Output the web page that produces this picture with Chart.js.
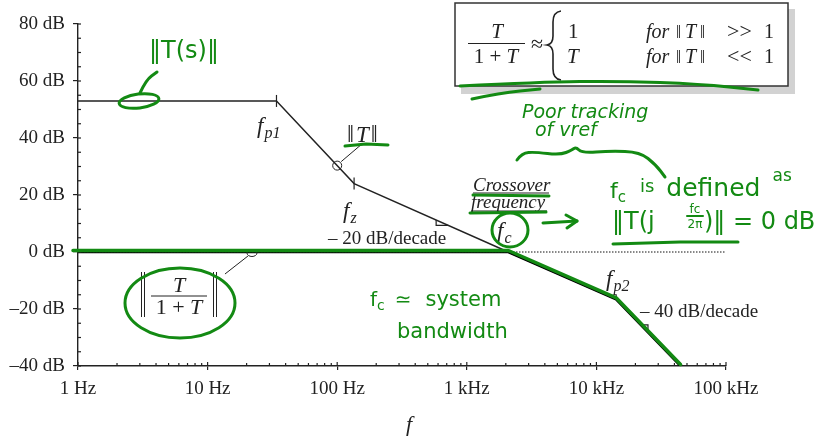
<!DOCTYPE html>
<html>
<head>
<meta charset="utf-8">
<script src="https://cdn.jsdelivr.net/npm/chart.js@4.4.0/dist/chart.umd.min.js"></script>
<style>
  html, body { margin: 0; padding: 0; background: #fff; }
  #wrap { width: 814px; height: 438px; }
</style>
</head>
<body>
<div id="wrap"><canvas id="bode"></canvas></div>
<script>
// loop gain ||T|| asymptotes (Hz, dB)
const loopFreqs = [1, 34, 135, 2090, 14200, 44600];
const loopMags  = [53, 53, 24, 0, -16.6, -40];

// closed loop ||T/(1+T)||
const closedFreqs = [1, 2090, 14200, 44600];
const closedMags  = [0, 0, -16.6, -40];

// 0 dB reference line
const refFreqs = [1, 100000];
const refMags  = [0, 0];

const freqTicks  = [1, 10, 100, 1000, 10000, 100000];
const freqLabels = ["1 Hz", "10 Hz", "100 Hz", "1 kHz", "10 kHz", "100 kHz"];
const dbTicks  = [-40, -20, 0, 20, 40, 60, 80];
const dbLabels = ["\u201340 dB", "\u201320 dB", "0 dB", "20 dB", "40 dB", "60 dB", "80 dB"];

const INK = "#222";
const PEN = "#138a13";
const SERIF = '"Liberation Serif", "DejaVu Serif", serif';
const HAND = '"DejaVu Sans", sans-serif';

function toPoints(fs, ms) {
  return fs.map((f, i) => ({ x: f, y: ms[i] }));
}

// dB value on a piecewise asymptote at frequency f
function dbAt(fs, ms, f) {
  for (let i = 0; i < fs.length - 1; i++) {
    if (f >= fs[i] && f <= fs[i + 1]) {
      const t = Math.log10(f / fs[i]) / Math.log10(fs[i + 1] / fs[i]);
      return ms[i] + t * (ms[i + 1] - ms[i]);
    }
  }
  return ms[ms.length - 1];
}

// draw a run of text pieces left to right on one baseline
function rich(ctx, x, y, parts) {
  ctx.textAlign = "left";
  ctx.textBaseline = "alphabetic";
  parts.forEach(p => {
    ctx.font = p.font;
    ctx.fillText(p.t, x, y + (p.dy || 0));
    x += ctx.measureText(p.t).width + (p.gap || 0);
  });
}

function richWidth(ctx, parts) {
  let w = 0;
  parts.forEach(p => { ctx.font = p.font; w += ctx.measureText(p.t).width + (p.gap || 0); });
  return w;
}

function line(ctx, pts) {
  ctx.beginPath();
  ctx.moveTo(pts[0][0], pts[0][1]);
  for (let i = 1; i < pts.length; i++) ctx.lineTo(pts[i][0], pts[i][1]);
  ctx.stroke();
}

function curve(ctx, pts) {
  ctx.beginPath();
  ctx.moveTo(pts[0][0], pts[0][1]);
  for (let i = 1; i < pts.length - 1; i++) {
    const mx = (pts[i][0] + pts[i + 1][0]) / 2;
    const my = (pts[i][1] + pts[i + 1][1]) / 2;
    ctx.quadraticCurveTo(pts[i][0], pts[i][1], mx, my);
  }
  const last = pts[pts.length - 1];
  ctx.lineTo(last[0], last[1]);
  ctx.stroke();
}

function fLabel(ctx, x, y, sub) {
  rich(ctx, x, y, [
    { t: "f", font: "italic 23px " + SERIF, gap: 1 },
    { t: sub, font: "italic 16px " + SERIF, dy: 5 }
  ]);
}

// "1 + T" centred at x
function onePlusT(ctx, cx, y, size) {
  const parts = [
    { t: "1 + ", font: size + "px " + SERIF },
    { t: "T", font: "italic " + size + "px " + SERIF }
  ];
  rich(ctx, cx - richWidth(ctx, parts) / 2, y, parts);
}

const notes = {
  id: "bodeNotes",
  afterDraw(chart) {
    const ctx = chart.ctx;
    const xs = chart.scales.x, ys = chart.scales.y;
    const px = f => xs.getPixelForValue(f);
    const py = d => ys.getPixelForValue(d);
    const area = chart.chartArea;

    ctx.save();
    ctx.strokeStyle = INK;
    ctx.fillStyle = INK;
    ctx.lineWidth = 1.2;

    // minor ticks and inner halves of the major ticks
    freqTicks.forEach((d, k) => {
      const x = px(d);
      line(ctx, [[x, area.bottom], [x, area.bottom - 4]]);
      if (k === freqTicks.length - 1) return;
      for (let m = 2; m < 10; m++) {
        const xm = px(d * m);
        line(ctx, [[xm, area.bottom], [xm, area.bottom - 3]]);
      }
    });
    for (let v = -40; v <= 80; v += 5) {
      const y = py(v);
      line(ctx, [[area.left, y], [area.left + 3, y]]);
    }

    // corner marks on the asymptotes
    [1, 2].forEach(i => {
      const x = px(loopFreqs[i]), y = py(loopMags[i]);
      line(ctx, [[x, y - 6], [x, y + 6]]);
    });
    {
      const x = px(closedFreqs[2]), y = py(closedMags[2]);
      line(ctx, [[x, y - 5], [x, y]]);
    }

    // slope markers
    {
      const x1 = px(580), y1 = py(dbAt(loopFreqs, loopMags, 580));
      const x2 = px(720), y2 = py(dbAt(loopFreqs, loopMags, 720));
      line(ctx, [[x1, y1], [x1, y2], [x2, y2]]);
      const a = px(22000), b = px(25000);
      const ya = py(dbAt(closedFreqs, closedMags, 22000));
      const yb = py(dbAt(closedFreqs, closedMags, 25000));
      line(ctx, [[a, ya], [b, ya], [b, yb]]);
    }

    // leader circles
    ctx.lineWidth = 1;
    {
      const cx = px(100), cy = py(dbAt(loopFreqs, loopMags, 100));
      ctx.beginPath(); ctx.arc(cx, cy, 4.5, 0, Math.PI * 2); ctx.stroke();
      line(ctx, [[cx + 4, cy - 4], [cx + 24, cy - 21]]);
      const dx = px(22), dy = py(0);
      ctx.beginPath(); ctx.ellipse(dx, dy + 1, 5, 3.5, 0, 0, Math.PI * 2); ctx.stroke();
      line(ctx, [[dx - 4, dy + 4], [dx - 27, dy + 22]]);
    }

    // ||T|| label
    rich(ctx, 347, 142, [
      { t: "\u2016", font: "25px " + SERIF, gap: 2 },
      { t: "T", font: "italic 23px " + SERIF, gap: 2 },
      { t: "\u2016", font: "25px " + SERIF }
    ]);

    fLabel(ctx, 257, 133, "p1");
    fLabel(ctx, 343, 218, "z");
    fLabel(ctx, 497, 238, "c");
    fLabel(ctx, 606, 286, "p2");

    ctx.font = "19px " + SERIF;
    ctx.fillText("\u2013 20 dB/decade", 328, 244);
    ctx.fillText("\u2013 40 dB/decade", 640, 317);

    ctx.font = "italic 19px " + SERIF;
    ctx.fillText("Crossover", 473, 191);
    ctx.fillText("frequency", 471, 208);
    line(ctx, [[473, 193], [549, 193]]);
    line(ctx, [[471, 211], [547, 211]]);

    // ||T/(1+T)|| label
    ctx.lineWidth = 1;
    [141.5, 144.5, 213.5, 216.5].forEach(x => line(ctx, [[x, 272], [x, 317]]));
    ctx.textAlign = "center";
    ctx.font = "italic 22px " + SERIF;
    ctx.fillText("T", 179, 292);
    line(ctx, [[151, 296], [207, 296]]);
    onePlusT(ctx, 179, 314, 22);

    // axis variable
    ctx.textAlign = "center";
    ctx.font = "italic 22px " + SERIF;
    ctx.fillText("f", 409, 431);

    // approximation box
    ctx.fillStyle = "#d2d2d2";
    ctx.fillRect(461, 9, 334, 85);
    ctx.fillStyle = "#fff";
    ctx.fillRect(455, 3, 333, 83);
    ctx.strokeStyle = "#333";
    ctx.lineWidth = 1.5;
    ctx.strokeRect(455, 3, 333, 83);
    ctx.fillStyle = INK;
    ctx.strokeStyle = INK;
    ctx.lineWidth = 1;
    ctx.textAlign = "center";
    ctx.font = "italic 21px " + SERIF;
    ctx.fillText("T", 497, 38);
    line(ctx, [[468, 43.5], [525, 43.5]]);
    onePlusT(ctx, 496, 63, 21);
    ctx.textAlign = "center";
    ctx.font = "22px " + SERIF;
    ctx.fillText("\u2248", 537, 51);
    // brace
    ctx.lineWidth = 1.6;
    ctx.beginPath();
    ctx.moveTo(561, 11);
    ctx.quadraticCurveTo(553, 12, 553, 22);
    ctx.lineTo(553, 36);
    ctx.quadraticCurveTo(553, 44, 547, 45);
    ctx.quadraticCurveTo(553, 46, 553, 54);
    ctx.lineTo(553, 69);
    ctx.quadraticCurveTo(553, 79, 561, 80);
    ctx.stroke();
    ctx.textAlign = "left";
    ctx.font = "21px " + SERIF;
    ctx.fillText("1", 568, 38);
    ctx.font = "italic 21px " + SERIF;
    ctx.fillText("T", 567, 63);
    const cond = (y, rel) => {
      ctx.font = "italic 20px " + SERIF;
      ctx.fillText("for", 646, y);
      ctx.font = "18px " + SERIF;
      ctx.fillText("\u2016", 676, y);
      ctx.fillText("\u2016", 700, y);
      ctx.font = "italic 20px " + SERIF;
      ctx.fillText("T", 685, y);
      ctx.font = "22px " + SERIF;
      ctx.fillText(rel, 727, y);
      ctx.font = "20px " + SERIF;
      ctx.fillText("1", 764, y);
    };
    cond(38, ">>");
    cond(63, "<<");

    // pen annotations
    ctx.strokeStyle = PEN;
    ctx.fillStyle = PEN;
    ctx.lineCap = "round";
    ctx.lineJoin = "round";

    // trace over the closed-loop curve
    const cl = closedFreqs.map((f, i) => [px(f), py(closedMags[i]) - 1.5]);
    cl[0][0] -= 5;
    ctx.lineWidth = 3.5;
    line(ctx, cl);
    ctx.lineWidth = 3;

    ctx.font = "24px " + HAND;
    ctx.textAlign = "left";
    ctx.fillText("\u2016T(s)\u2016", 149, 58);
    ctx.beginPath();
    ctx.ellipse(139, 101, 20, 7, -0.12, 0, Math.PI * 2);
    ctx.stroke();
    curve(ctx, [[140, 93], [146, 80], [157, 72]]);

    line(ctx, [[345, 146], [366, 144], [388, 145]]);

    curve(ctx, [[460, 86], [540, 82], [620, 81], [700, 84], [758, 90]]);
    curve(ctx, [[472, 99], [500, 93], [540, 89]]);

    ctx.font = "italic 19px " + HAND;
    ctx.fillText("Poor tracking", 522, 118);
    ctx.fillText("of vref", 535, 136);
    curve(ctx, [[517, 160], [522, 153], [535, 152], [560, 155], [572, 150], [576, 147], [582, 153], [610, 151], [640, 152], [656, 165], [665, 177]]);

    rich(ctx, 610, 198, [
      { t: "f", font: "22px " + HAND },
      { t: "c", font: "15px " + HAND, dy: 4, gap: 14 },
      { t: "is", font: "18px " + HAND, dy: -6, gap: 12 },
      { t: "defined", font: "25px " + HAND, dy: -2, gap: 12 },
      { t: "as", font: "17px " + HAND, dy: -17 }
    ]);
    ctx.font = "24px " + HAND;
    ctx.fillText("\u2016T(j", 612, 229);
    ctx.font = "12px " + HAND;
    ctx.textAlign = "center";
    ctx.fillText("fc", 695, 213);
    ctx.fillText("2\u03c0", 695, 228);
    ctx.lineWidth = 2;
    line(ctx, [[687, 216], [703, 216]]);
    ctx.textAlign = "left";
    ctx.font = "24px " + HAND;
    ctx.fillText(")\u2016 = 0 dB", 704, 229);
    ctx.lineWidth = 3;
    line(ctx, [[613, 244], [680, 242], [738, 242]]);

    line(ctx, [[543, 223], [577, 221]]);
    line(ctx, [[566, 215], [577, 221], [567, 228]]);

    line(ctx, [[473, 195], [549, 196]]);
    line(ctx, [[470, 213], [546, 212]]);
    ctx.beginPath();
    ctx.ellipse(510, 230, 18, 17, 0, 0, Math.PI * 2);
    ctx.stroke();

    rich(ctx, 370, 306, [
      { t: "f", font: "20px " + HAND },
      { t: "c", font: "14px " + HAND, dy: 4, gap: 10 },
      { t: "\u2243", font: "20px " + HAND, gap: 14 },
      { t: "system", font: "21px " + HAND }
    ]);
    ctx.font = "21px " + HAND;
    ctx.fillText("bandwidth", 397, 338);

    ctx.beginPath();
    ctx.ellipse(180, 303, 55, 35, 0, 0, Math.PI * 2);
    ctx.stroke();

    ctx.restore();
  }
};

const ctx = document.getElementById("bode").getContext("2d");
new Chart(ctx, {
  type: "line",
  data: {
    datasets: [
      {
        data: toPoints(refFreqs, refMags),
        borderColor: "#111",
        borderWidth: 1,
        borderDash: [1.5, 1.5],
        pointRadius: 0,
        order: 0
      },
      {
        data: toPoints(closedFreqs, closedMags),
        borderColor: "#000",
        borderWidth: 2.6,
        pointRadius: 0,
        order: 1
      },
      {
        data: toPoints(loopFreqs, loopMags),
        borderColor: INK,
        borderWidth: 1.4,
        pointRadius: 0,
        order: 2
      }
    ]
  },
  options: {
    responsive: true,
    maintainAspectRatio: false,
    animation: false,
    events: [],
    layout: { padding: { left: 0, right: 88, top: 24, bottom: 0 } },
    plugins: { legend: { display: false }, tooltip: { enabled: false } },
    scales: {
      x: {
        type: "logarithmic",
        min: 1,
        max: 100000,
        afterBuildTicks: s => { s.ticks = freqTicks.map(v => ({ value: v })); },
        afterFit: s => { s.height = 72; },
        ticks: {
          callback: (v, i) => freqLabels[i],
          autoSkip: false,
          maxRotation: 0,
          color: INK,
          padding: 8,
          font: { family: SERIF, size: 19 }
        },
        grid: { display: true, drawOnChartArea: false, drawTicks: true, tickLength: 4, color: INK, lineWidth: 1.2 },
        border: { display: true, color: INK, width: 1.4 }
      },
      y: {
        type: "linear",
        min: -40,
        max: 80,
        afterBuildTicks: s => { s.ticks = dbTicks.map(v => ({ value: v })); },
        afterFit: s => { s.width = 78; },
        ticks: {
          callback: (v, i) => dbLabels[i],
          color: INK,
          padding: 8,
          font: { family: SERIF, size: 19 }
        },
        grid: { display: true, drawOnChartArea: false, drawTicks: true, tickLength: 5, color: INK, lineWidth: 1.2 },
        border: { display: true, color: INK, width: 1.4 }
      }
    }
  },
  plugins: [notes]
});
</script>
</body>
</html>
